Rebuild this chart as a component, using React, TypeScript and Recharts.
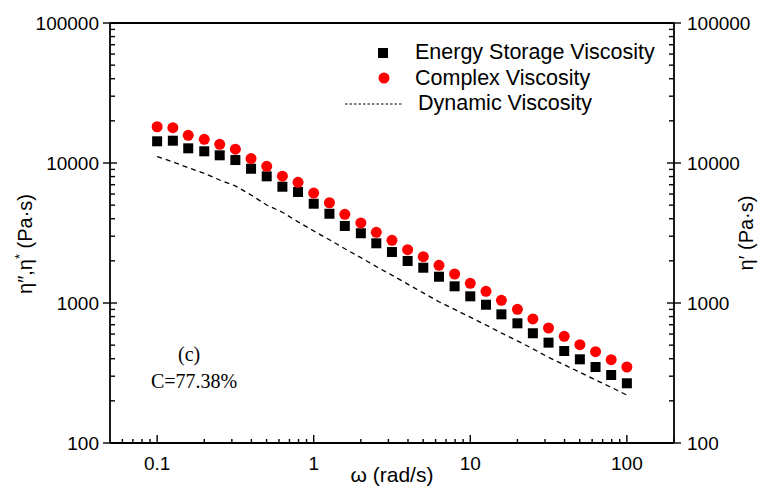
import { ScatterChart, Scatter, XAxis, YAxis, ReferenceLine } from 'recharts';

// angular frequency (rad/s)
const omega = [
  0.1, 0.126, 0.158, 0.2, 0.251, 0.316, 0.398, 0.501, 0.631, 0.794,
  1, 1.26, 1.58, 2, 2.51, 3.16, 3.98, 5.01, 6.31, 7.94,
  10, 12.6, 15.8, 20, 25.1, 31.6, 39.8, 50.1, 63.1, 79.4, 100,
];

// η'' energy storage viscosity (Pa·s)
const storageVisc = [
  14290, 14430, 12730, 12120, 11350, 10500, 9100, 8030, 6770, 6210,
  5120, 4340, 3550, 3150, 2670, 2313, 1995, 1787, 1541, 1316,
  1116, 972, 830, 716, 608, 521, 454, 396, 349, 306, 267,
];

// η* complex viscosity (Pa·s)
const complexVisc = [
  18150, 17870, 15770, 14770, 13600, 12560, 10750, 9470, 8050, 7280,
  6100, 5200, 4300, 3730, 3200, 2805, 2404, 2143, 1858, 1611,
  1382, 1212, 1045, 902, 769, 663, 578, 504, 449, 394, 349,
];

// η' dynamic viscosity (Pa·s)
const dynamicVisc = [
  11100, 10200, 9250, 8430, 7560, 6860, 5910, 5010, 4450, 3800,
  3270, 2830, 2440, 2110, 1820, 1580, 1365, 1180, 1020, 900,
  792, 696, 611, 536, 471, 409, 362, 320, 282, 250, 220,
];

const majorX = [0.1, 1, 10, 100];
const minorX = [
  0.06, 0.07, 0.08, 0.09,
  0.2, 0.3, 0.4, 0.5, 0.6, 0.7, 0.8, 0.9,
  2, 3, 4, 5, 6, 7, 8, 9,
  20, 30, 40, 50, 60, 70, 80, 90, 200,
];
const majorY = [100, 1000, 10000, 100000];
const minorY = [
  200, 300, 400, 500, 600, 700, 800, 900,
  2000, 3000, 4000, 5000, 6000, 7000, 8000, 9000,
  20000, 30000, 40000, 50000, 60000, 70000, 80000, 90000,
];

const xTicks = [...majorX, ...minorX].sort((a, b) => a - b);
const yTicks = [...majorY, ...minorY].sort((a, b) => a - b);

const toPoints = (vals: number[]) => omega.map((w, i) => ({ x: w, y: vals[i] }));
const storageData = toPoints(storageVisc);
const complexData = toPoints(complexVisc);
const dynamicData = toPoints(dynamicVisc);

const SANS = '"Liberation Sans", Arial, sans-serif';
const SERIF = '"Liberation Serif", "Times New Roman", serif';
const AXIS_W = 1.8;
const TICK_FS = 19;

function XTick({ x, y, payload }: any) {
  const major = majorX.includes(payload.value);
  return (
    <g>
      <line x1={x} x2={x} y1={y} y2={y - (major ? 8 : 4)} stroke="#000" strokeWidth={1.4} />
      {major && (
        <text x={x} y={y + 27} textAnchor="middle" fontSize={TICK_FS} fontFamily={SANS} fill="#000">
          {String(payload.value)}
        </text>
      )}
    </g>
  );
}

function LeftTick({ x, y, payload }: any) {
  const major = majorY.includes(payload.value);
  return (
    <g>
      <line x1={major ? x - 7 : x} x2={x + (major ? 7 : 5)} y1={y} y2={y} stroke="#000" strokeWidth={1.4} />
      {major && (
        <text x={x - 11} y={y} dy="0.36em" textAnchor="end" fontSize={TICK_FS} fontFamily={SANS} fill="#000">
          {String(payload.value)}
        </text>
      )}
    </g>
  );
}

function RightTick({ x, y, payload }: any) {
  const major = majorY.includes(payload.value);
  return (
    <g>
      <line x1={x - (major ? 7 : 5)} x2={major ? x + 7 : x} y1={y} y2={y} stroke="#000" strokeWidth={1.4} />
      {major && (
        <text x={x + 13} y={y} dy="0.36em" textAnchor="start" fontSize={TICK_FS} fontFamily={SANS} fill="#000">
          {String(payload.value)}
        </text>
      )}
    </g>
  );
}

function XTitle({ viewBox }: any) {
  const { x, y, width } = viewBox;
  return (
    <text x={x + width / 2} y={y + 39} textAnchor="middle" fontSize={21} fontFamily={SANS} fill="#000">
      ω (rad/s)
    </text>
  );
}

function LeftTitle({ viewBox }: any) {
  const { y, height } = viewBox;
  const cx = 32;
  const cy = y + height / 2 + 11;
  return (
    <text
      x={cx}
      y={cy}
      transform={`rotate(-90 ${cx} ${cy})`}
      textAnchor="middle"
      fontSize={20}
      fontFamily={SANS}
      fill="#000"
    >
      η″,η<tspan dy={-8} fontSize={13}>*</tspan>
      <tspan dy={8}> (Pa·s)</tspan>
    </text>
  );
}

function RightTitle({ viewBox }: any) {
  const { x, y, height } = viewBox;
  const cx = x + 79;
  const cy = y + height / 2;
  return (
    <text
      x={cx}
      y={cy}
      transform={`rotate(-90 ${cx} ${cy})`}
      textAnchor="middle"
      fontSize={20}
      fontFamily={SANS}
      fill="#000"
    >
      η′ (Pa·s)
    </text>
  );
}

const Square = ({ cx, cy }: any) => <rect x={cx - 5} y={cy - 5} width={10} height={10} fill="#000" />;
const Dot = ({ cx, cy }: any) => <circle cx={cx} cy={cy} r={5.5} fill="#ff0000" />;
const NoMark = () => <g />;

function ChartLegend() {
  const row = { display: 'flex', alignItems: 'center', height: 25.5 } as const;
  const txt = { fontFamily: SANS, fontSize: 21.5, color: '#000', lineHeight: '21px', whiteSpace: 'nowrap' } as const;
  return (
    <div style={{ position: 'absolute', left: 345, top: 40 }}>
      <div style={row}>
        <svg width={70} height={26}>
          <rect x={33} y={8} width={10} height={10} fill="#000" />
        </svg>
        <span style={txt}>Energy Storage Viscosity</span>
      </div>
      <div style={row}>
        <svg width={70} height={26}>
          <circle cx={39} cy={13} r={5.5} fill="#ff0000" />
        </svg>
        <span style={txt}>Complex Viscosity</span>
      </div>
      <div style={row}>
        <svg width={73} height={26}>
          <line x1={0} x2={57} y1={13} y2={13} stroke="#000" strokeWidth={1} strokeDasharray="2.5 2" />
        </svg>
        <span style={txt}>Dynamic Viscosity</span>
      </div>
    </div>
  );
}

export default function App() {
  return (
    <div style={{ position: 'absolute', left: 0, top: 0, width: 768, height: 487, background: '#fff' }}>
      <ScatterChart width={768} height={487} margin={{ top: 23, right: 0, bottom: 0, left: 0 }}>
        <XAxis
          dataKey="x"
          type="number"
          scale="log"
          domain={[0.05, 200]}
          allowDataOverflow
          ticks={xTicks}
          interval={0}
          tickSize={0}
          tickMargin={0}
          tickLine={false}
          tick={<XTick />}
          height={44}
          axisLine={{ stroke: '#000', strokeWidth: AXIS_W }}
          label={{ content: <XTitle /> }}
        />
        <YAxis
          yAxisId="left"
          dataKey="y"
          type="number"
          scale="log"
          domain={[100, 100000]}
          allowDataOverflow
          ticks={yTicks}
          interval={0}
          tickSize={0}
          tickMargin={0}
          tickLine={false}
          tick={<LeftTick />}
          width={110}
          axisLine={{ stroke: '#000', strokeWidth: AXIS_W }}
          label={{ content: <LeftTitle /> }}
        />
        <YAxis
          yAxisId="right"
          orientation="right"
          dataKey="y"
          type="number"
          scale="log"
          domain={[100, 100000]}
          allowDataOverflow
          ticks={yTicks}
          interval={0}
          tickSize={0}
          tickMargin={0}
          tickLine={false}
          tick={<RightTick />}
          width={94}
          axisLine={{ stroke: '#000', strokeWidth: AXIS_W }}
          label={{ content: <RightTitle /> }}
        />
        <ReferenceLine yAxisId="left" y={100000} stroke="#000" strokeWidth={AXIS_W} />
        <Scatter
          yAxisId="right"
          data={dynamicData}
          line={{ stroke: '#000', strokeWidth: 1.3, strokeDasharray: '5 4' }}
          lineType="joint"
          shape={<NoMark />}
          isAnimationActive={false}
        />
        <Scatter yAxisId="left" data={storageData} shape={<Square />} isAnimationActive={false} />
        <Scatter yAxisId="left" data={complexData} shape={<Dot />} isAnimationActive={false} />
      </ScatterChart>
      <ChartLegend />
      <div style={{ position: 'absolute', left: 178, top: 343, fontFamily: SERIF, fontSize: 20, color: '#000', lineHeight: '22px' }}>
        (c)
      </div>
      <div style={{ position: 'absolute', left: 151, top: 370, fontFamily: SERIF, fontSize: 20, color: '#000', lineHeight: '22px' }}>
        C=77.38%
      </div>
    </div>
  );
}
